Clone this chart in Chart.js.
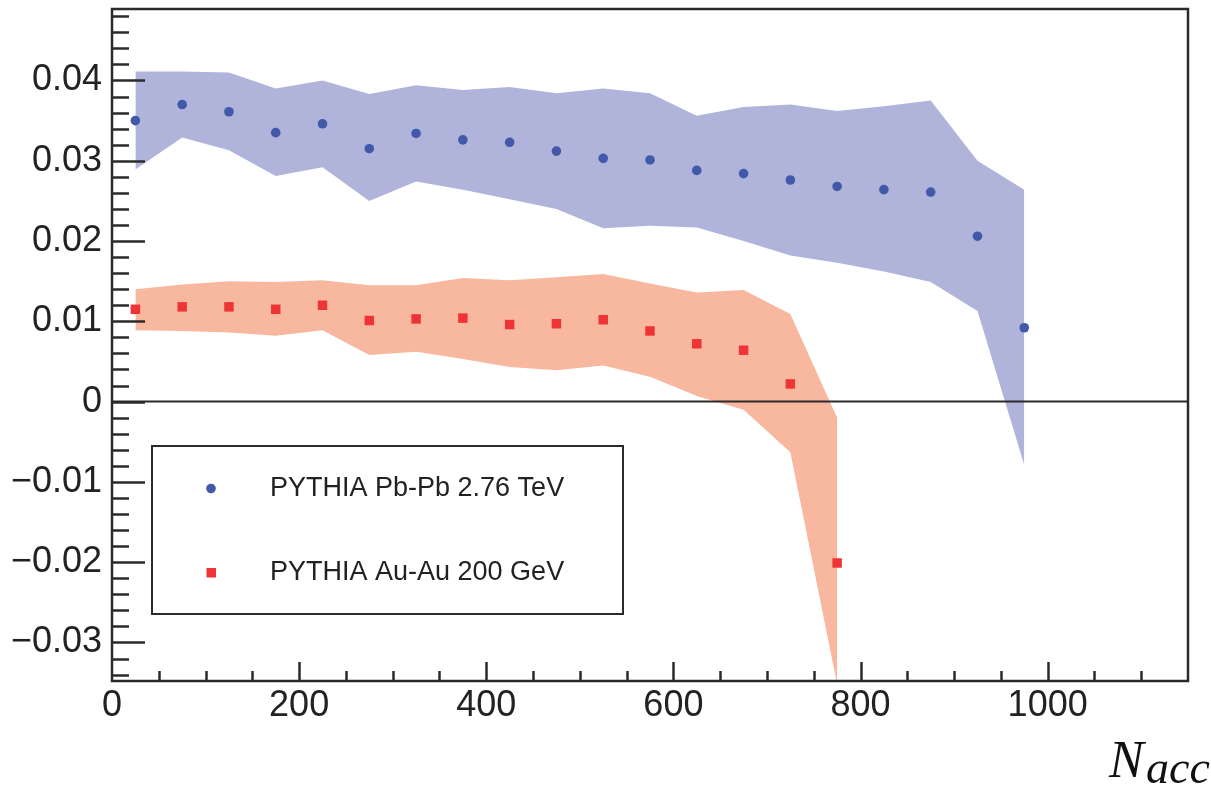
<!DOCTYPE html>
<html>
<head>
<meta charset="utf-8">
<script src="https://cdn.jsdelivr.net/npm/chart.js@4.4.1/dist/chart.umd.min.js"></script>
<style>
  html, body { margin: 0; padding: 0; background: #fff; overflow: hidden; }
  #wrap { width: 1211px; height: 792px; position: relative; }
</style>
</head>
<body>
<div id="wrap"><canvas id="c" width="1211" height="792"></canvas></div>
<script>
// N_acc bin centres
const pbpbBins = [25, 75, 125, 175, 225, 275, 325, 375, 425, 475, 525, 575, 625, 675, 725, 775, 825, 875, 925, 975];
const auauBins = [25, 75, 125, 175, 225, 275, 325, 375, 425, 475, 525, 575, 625, 675, 725, 775];

// PYTHIA Pb-Pb 2.76 TeV: central values and band edges
const pbpbValue = [0.0350, 0.0370, 0.0361, 0.0335, 0.0346, 0.0315, 0.0334, 0.0326, 0.0323, 0.0312, 0.0303, 0.0301,
                   0.0288, 0.0284, 0.0276, 0.0268, 0.0264, 0.0261, 0.0206, 0.0092];
const pbpbUpper = [0.0411, 0.0411, 0.0410, 0.0390, 0.0400, 0.0383, 0.0394, 0.0388, 0.0392, 0.0384, 0.0390, 0.0384,
                   0.0356, 0.0367, 0.0370, 0.0362, 0.0368, 0.0375, 0.0300, 0.0264];
const pbpbLower = [0.0289, 0.0329, 0.0313, 0.0281, 0.0292, 0.0250, 0.0274, 0.0264, 0.0252, 0.0240, 0.0216, 0.0219,
                   0.0217, 0.0200, 0.0182, 0.0173, 0.0162, 0.0149, 0.0113, -0.0079];

// PYTHIA Au-Au 200 GeV: central values and band edges
const auauValue = [0.0115, 0.0118, 0.0118, 0.0115, 0.0120, 0.0101, 0.0103, 0.0104, 0.0096, 0.0097, 0.0102, 0.0088,
                   0.0072, 0.0064, 0.0022, -0.0201];
const auauUpper = [0.0140, 0.0146, 0.0150, 0.0149, 0.0151, 0.0145, 0.0145, 0.0154, 0.0151, 0.0155, 0.0159, 0.0147,
                   0.0136, 0.0139, 0.0109, -0.0020];
const auauLower = [0.0089, 0.0088, 0.0086, 0.0082, 0.0089, 0.0058, 0.0062, 0.0053, 0.0043, 0.0039, 0.0045, 0.0031,
                   0.0007, -0.0010, -0.0063, -0.0352];

// axis labelling
const xTickValues = [0, 200, 400, 600, 800, 1000];
const yTickValues = [-0.03, -0.02, -0.01, 0, 0.01, 0.02, 0.03, 0.04];
const seriesLabels = ['PYTHIA Pb-Pb 2.76 TeV', 'PYTHIA Au-Au 200 GeV'];

const blueMarker = '#4159a8';
const blueBand = '#b0b4da';
const redMarker = '#ee3434';
const redBand = '#f8b8a0';
const ink = '#2b2b2b';

const pts = (xs, ys) => xs.map((x, i) => ({ x: x, y: ys[i] }));

// inside ticks, frame, zero line, legend and axis title
const decorations = {
  id: 'decorations',
  afterDatasetsDraw(chart) {
    const { ctx, chartArea: a, scales: { y } } = chart;
    ctx.save();
    ctx.strokeStyle = ink;
    ctx.lineWidth = 2;
    const y0 = y.getPixelForValue(0);
    ctx.beginPath();
    ctx.moveTo(a.left, y0);
    ctx.lineTo(a.right, y0);
    ctx.stroke();
    ctx.restore();
  },
  afterDraw(chart) {
    const { ctx, chartArea: a, scales: { x, y } } = chart;
    ctx.save();
    ctx.strokeStyle = ink;
    ctx.lineWidth = 2.5;
    ctx.lineCap = 'butt';
    // y ticks: major every 0.01, minor every 0.002
    ctx.beginPath();
    for (let k = -17; k <= 24; k++) {
      const v = k * 0.002;
      const py = Math.round(y.getPixelForValue(v)) + 0.5;
      const len = (k % 5 === 0) ? 33 : 17;
      ctx.moveTo(a.left, py);
      ctx.lineTo(a.left + len, py);
    }
    // x ticks: major every 200, minor every 50
    for (let v = 50; v < 1150; v += 50) {
      const px = Math.round(x.getPixelForValue(v)) + 0.5;
      const len = (v % 200 === 0) ? 19 : 10;
      ctx.moveTo(px, a.bottom);
      ctx.lineTo(px, a.bottom - len);
    }
    ctx.stroke();
    // frame
    ctx.strokeRect(a.left, a.top, a.right - a.left, a.bottom - a.top);

    // legend box
    const lx = 152, ly = 446, lw = 471, lh = 168;
    ctx.fillStyle = '#fff';
    ctx.fillRect(lx, ly, lw, lh);
    ctx.lineWidth = 2;
    ctx.strokeRect(lx, ly, lw, lh);
    ctx.fillStyle = blueMarker;
    ctx.beginPath();
    ctx.arc(211, 488.5, 4.8, 0, Math.PI * 2);
    ctx.fill();
    ctx.fillStyle = redMarker;
    ctx.fillRect(206.5, 568, 9.5, 9.5);
    ctx.fillStyle = '#222';
    ctx.font = '27px "Liberation Sans", Arial, sans-serif';
    ctx.textBaseline = 'middle';
    ctx.textAlign = 'left';
    ctx.fillText(seriesLabels[0], 270, 489);
    ctx.fillText(seriesLabels[1], 270, 573);

    // axis title N_acc
    ctx.fillStyle = '#111';
    ctx.textBaseline = 'alphabetic';
    ctx.font = 'italic 52px "Liberation Serif", serif';
    ctx.fillText('N', 1109, 777);
    ctx.font = 'italic 46px "Liberation Serif", serif';
    ctx.fillText('acc', 1146, 783);
    ctx.restore();
  }
};

const fmtY = v => {
  if (Math.abs(v) < 1e-9) return '0';
  return (v < 0 ? '\u2212' : '') + Math.abs(v).toFixed(2);
};

new Chart(document.getElementById('c'), {
  data: {
    datasets: [
      { type: 'scatter', label: seriesLabels[0], data: pts(pbpbBins, pbpbValue),
        pointStyle: 'circle', pointRadius: 4.8, pointBackgroundColor: blueMarker, pointBorderWidth: 0 },
      { type: 'scatter', label: seriesLabels[1], data: pts(auauBins, auauValue),
        pointStyle: 'rect', pointRadius: 6.7, pointBackgroundColor: redMarker, pointBorderWidth: 0 },
      { type: 'line', label: 'pbpb upper', data: pts(pbpbBins, pbpbUpper), borderWidth: 0, pointRadius: 0,
        tension: 0, fill: '+1', backgroundColor: blueBand },
      { type: 'line', label: 'pbpb lower', data: pts(pbpbBins, pbpbLower), borderWidth: 0, pointRadius: 0,
        tension: 0, fill: false },
      { type: 'line', label: 'auau upper', data: pts(auauBins, auauUpper), borderWidth: 0, pointRadius: 0,
        tension: 0, fill: '+1', backgroundColor: redBand },
      { type: 'line', label: 'auau lower', data: pts(auauBins, auauLower), borderWidth: 0, pointRadius: 0,
        tension: 0, fill: false }
    ]
  },
  options: {
    responsive: false,
    animation: false,
    devicePixelRatio: 1,
    layout: { padding: { top: 9, right: 23, left: 0, bottom: 0 } },
    plugins: { legend: { display: false }, tooltip: { enabled: false } },
    scales: {
      x: {
        type: 'linear', position: 'bottom', min: 0, max: 1150,
        grid: { display: false, drawTicks: false }, border: { display: false },
        ticks: { color: '#222', padding: 3, maxRotation: 0, autoSkip: false, callback: v => String(v),
                 font: { family: '"Liberation Sans", Arial, sans-serif', size: 36 } },
        afterBuildTicks: s => { s.ticks = xTickValues.map(v => ({ value: v })); },
        afterFit: s => { s.height = 111; s.paddingLeft = 0; s.paddingRight = 0; }
      },
      y: {
        type: 'linear', position: 'left', min: -0.0348, max: 0.0489,
        grid: { display: false, drawTicks: false }, border: { display: false },
        ticks: { color: '#222', padding: 10, autoSkip: false, callback: v => fmtY(v),
                 font: { family: '"Liberation Sans", Arial, sans-serif', size: 36 } },
        afterBuildTicks: s => { s.ticks = yTickValues.map(v => ({ value: v })); },
        afterFit: s => { s.width = 112; s.paddingTop = 0; s.paddingBottom = 0; }
      }
    }
  },
  plugins: [decorations]
});
</script>
</body>
</html>
